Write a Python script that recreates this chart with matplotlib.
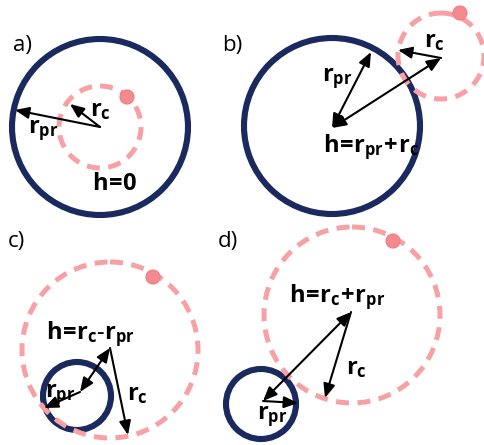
import numpy as np
import matplotlib.pyplot as plt
from matplotlib.patches import Circle, FancyArrowPatch

plt.rcParams['font.family'] = ['Open Sans', 'DejaVu Sans']
plt.rcParams['mathtext.fontset'] = 'custom'
plt.rcParams['mathtext.rm'] = 'Open Sans:bold'
plt.rcParams['mathtext.it'] = 'Open Sans:bold'
plt.rcParams['mathtext.bf'] = 'Open Sans:bold'

# geometry in image pixels (x right, y down), one entry per panel a-d
panels = ['a)', 'b)', 'c)', 'd)']
panel_label_xy = [(13, 45), (222, 45), (8, 242), (218, 242)]

# navy (pr) circle: centre and radius
pr_center = [(100, 127), (332, 126), (77, 396), (261, 404)]
pr_radius = [88, 88, 34, 35]

# pink dashed (c) circle: centre and radius
c_center = [(100, 127), (441, 56), (110, 350), (352, 315)]
c_radius = [41, 43, 88, 88]

# pink dot on the dashed circle
dot_xy = [(127, 97), (460, 13), (153, 277), (393, 241)]

# arrows: (start, end, double headed)
arrows = [
    [((100, 127), (15, 110), False), ((100, 127), (70, 104), False)],
    [((332, 128), (371, 52), True), ((332, 128), (441, 58), True),
     ((441, 58), (398, 50), False)],
    [((110, 348), (80, 392), True), ((80, 392), (44, 408), False),
     ((110, 348), (128, 435), False)],
    [((351, 312), (263, 401), True), ((263, 401), (298, 403), False),
     ((351, 312), (325, 398), False)],
]

# tight operators (mathtext otherwise pads = + with wide spaces)
EQ = r'\!=\!'
PL = r'\!+\!'
MI = '\u2010'  # plain hyphen, shorter than the math minus

# labels: (text, x, y)
labels = [
    [r'$\mathrm{r_c}$', r'$\mathrm{r_{pr}}$', r'$\mathrm{h' + EQ + '0}$'],
    [r'$\mathrm{r_{pr}}$', r'$\mathrm{h' + EQ + 'r_{pr}' + PL + 'r_c}$', r'$\mathrm{r_c}$'],
    [r'$\mathrm{h' + EQ + 'r_c' + MI + 'r_{pr}}$', r'$\mathrm{r_{pr}}$', r'$\mathrm{r_c}$'],
    [r'$\mathrm{h' + EQ + 'r_c' + PL + 'r_{pr}}$', r'$\mathrm{r_c}$', r'$\mathrm{r_{pr}}$'],
]
label_xy = [
    [(90, 110), (28, 131), (92, 184)],
    [(322, 79), (323, 147), (424, 41)],
    [(46, 334), (45, 395), (127, 394)],
    [(289, 297), (346, 368), (257, 417)],
]

navy = '#1b2a5e'
pink = '#f8a1a5'
dot_col = '#f58a8e'

fig = plt.figure(figsize=(4.85, 4.45), dpi=100)
ax = fig.add_axes([0, 0, 1, 1])
ax.set_xlim(0, 485)
ax.set_ylim(445, 0)
ax.set_aspect('equal')
ax.axis('off')

for i in range(4):
    ax.add_patch(Circle(pr_center[i], pr_radius[i], fill=False, ec=navy, lw=4.4, zorder=2))
    ax.add_patch(Circle(c_center[i], c_radius[i], fill=False, ec=pink, lw=3.6,
                        linestyle=(0, (2.6, 1.7)), zorder=3))
    ax.add_patch(Circle(dot_xy[i], 7, fc=dot_col, ec='#f07c80', lw=0.8, zorder=4))

    for start, end, both in arrows[i]:
        style = '<|-|>' if both else '-|>'
        ax.add_patch(FancyArrowPatch(start, end, arrowstyle=style + ',head_length=0.6,head_width=0.25',
                                     mutation_scale=14, color='black', lw=1.5,
                                     shrinkA=0, shrinkB=0, zorder=5))

    ax.text(*panel_label_xy[i], panels[i], fontsize=16, ha='left', va='center', zorder=6)
    for txt, (x, y) in zip(labels[i], label_xy[i]):
        ax.text(x, y, txt, fontsize=17, ha='left', va='center', zorder=6)

fig.savefig('out.png', dpi=100)
